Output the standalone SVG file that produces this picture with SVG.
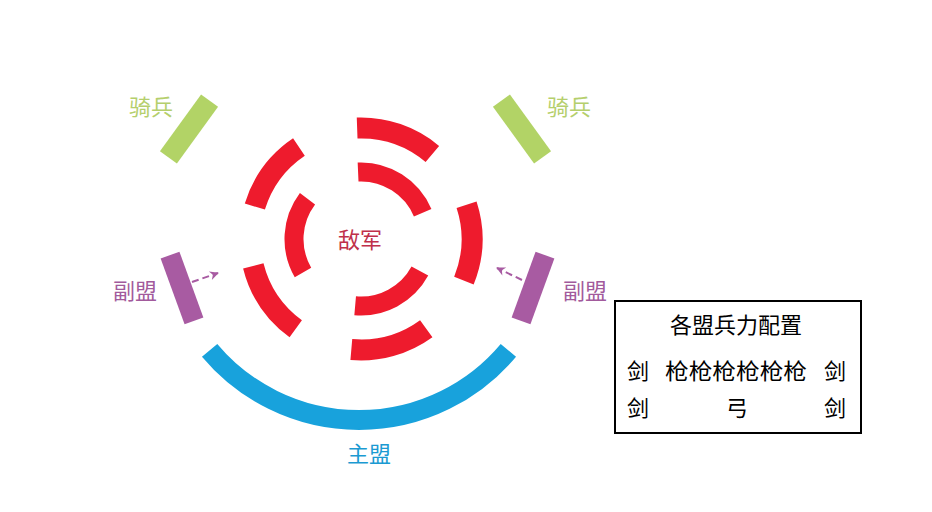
<svg xmlns="http://www.w3.org/2000/svg" width="932" height="512" viewBox="0 0 932 512">
<defs>
<style>
.enemy{fill:none;stroke:#ee1b2d;stroke-linecap:butt}
.outer{stroke-width:21}
.inner{stroke-width:19}
.main{fill:none;stroke:#18a2dc;stroke-width:20}
.cav{fill:#b2d366}
.side{fill:#a85ba2}
.lbl{font-family:"Noto Sans CJK SC","Noto Sans",sans-serif;font-size:22px;text-anchor:middle}
.tbl{font-family:"Noto Sans CJK SC","Noto Sans",sans-serif;font-size:22px;fill:#000}
.arrow{fill:none;stroke:#a85ba2;stroke-width:2;stroke-dasharray:7 4}
</style>
<marker id="ah" viewBox="0 0 10 10" refX="9" refY="5" markerWidth="9" markerHeight="9" markerUnits="userSpaceOnUse" orient="auto" overflow="visible">
<path d="M0,0 L10,5 L0,10 L3,5 Z" fill="#a85ba2"/>
</marker>
</defs>
<rect width="932" height="512" fill="#fff"/>
<g id="enemy">
<path class="enemy outer" d="M357.13,128.07 A111,111 0 0 1 432.35,153.97"/>
<path class="enemy outer" d="M466.57,204.70 A111,111 0 0 1 463.92,280.58"/>
<path class="enemy outer" d="M426.25,328.80 A111,111 0 0 1 351.33,349.58"/>
<path class="enemy outer" d="M295.75,328.80 A111,111 0 0 1 253.30,265.85"/>
<path class="enemy outer" d="M254.85,206.55 A111,111 0 0 1 298.93,146.98"/>
<path class="enemy inner" d="M358.08,172.06 A67,67 0 0 1 422.67,212.82"/>
<path class="enemy inner" d="M419.88,270.97 A67,67 0 0 1 355.16,305.75"/>
<path class="enemy inner" d="M302.98,272.50 A67,67 0 0 1 307.49,198.68"/>
<text class="lbl" x="360" y="248" fill="#c0304a">敌军</text>
</g>
<g id="main-alliance">
<path class="main" d="M508.38,350.34 A195,195 0 0 1 209.62,350.34"/>
<text class="lbl" x="369" y="462" fill="#1b9ad2">主盟</text>
</g>
<g id="cavalry-left">
<rect class="cav" x="-10.5" y="-35" width="21" height="70" transform="translate(189,129) rotate(36)"/>
<text class="lbl" x="151" y="115" fill="#b5cf6c">骑兵</text>
</g>
<g id="cavalry-right">
<rect class="cav" x="-10.5" y="-35" width="21" height="70" transform="translate(522,129) rotate(-36)"/>
<text class="lbl" x="569" y="115" fill="#b5cf6c">骑兵</text>
</g>
<g id="side-left">
<rect class="side" x="-10" y="-35" width="20" height="70" transform="translate(182,288) rotate(-20)"/>
<text class="lbl" x="135" y="299" fill="#a25a9c">副盟</text>
</g>
<g id="side-right">
<rect class="side" x="-10" y="-35" width="20" height="70" transform="translate(533,288) rotate(20)"/>
<text class="lbl" x="585" y="299" fill="#a25a9c">副盟</text>
</g>
<g id="connectors">
<path class="arrow" d="M192,282 L218,273" marker-end="url(#ah)"/>
<path class="arrow" d="M522,280 L497,268" marker-end="url(#ah)"/>
</g>
<g id="table">
<rect x="615" y="301" width="246" height="132" fill="none" stroke="#000" stroke-width="2"/>
<text class="tbl" x="736" y="333" text-anchor="middle">各盟兵力配置</text>
<text class="tbl" x="638" y="379" text-anchor="middle">剑</text>
<text class="tbl" x="736" y="379" text-anchor="middle" textLength="142" lengthAdjust="spacingAndGlyphs">枪枪枪枪枪枪</text>
<text class="tbl" x="835" y="379" text-anchor="middle">剑</text>
<text class="tbl" x="638" y="416" text-anchor="middle">剑</text>
<text class="tbl" x="737" y="416" text-anchor="middle">弓</text>
<text class="tbl" x="835" y="416" text-anchor="middle">剑</text>
</g>
</svg>
